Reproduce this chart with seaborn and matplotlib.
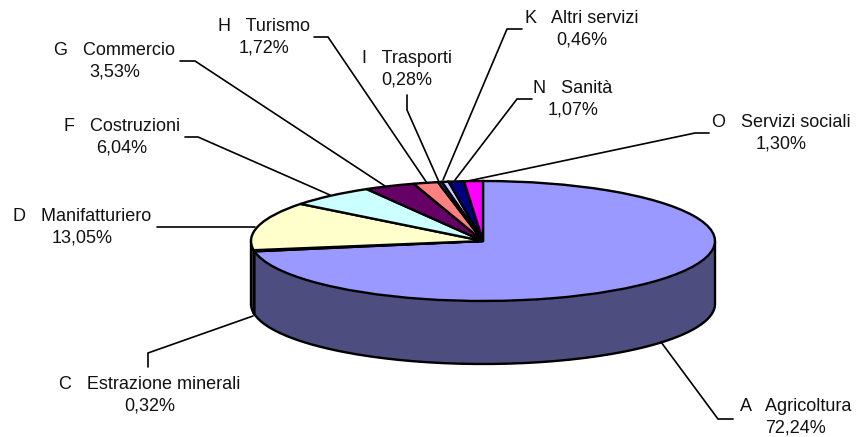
import numpy as np
import seaborn as sns
import matplotlib.pyplot as plt
from matplotlib.colors import to_rgb

sns.set_theme(style="white")
plt.rcParams["font.family"] = ["Liberation Sans", "DejaVu Sans"]

# settori e quote (%)
settori = ["A   Agricoltura", "C   Estrazione minerali", "D   Manifatturiero", "F   Costruzioni",
           "G   Commercio", "H   Turismo", "I   Trasporti", "K   Altri servizi", "N   Sanità",
           "O   Servizi sociali"]
quote = [72.24, 0.32, 13.05, 6.04, 3.53, 1.72, 0.28, 0.46, 1.07, 1.30]
etichette = ["72,24%", "0,32%", "13,05%", "6,04%", "3,53%", "1,72%", "0,28%", "0,46%", "1,07%", "1,30%"]
colori = sns.color_palette(["#9999FF", "#993366", "#FFFFCC", "#CCFFFF", "#660066",
                            "#FF8080", "#0066CC", "#CCCCFF", "#000080", "#FF00FF"])

# posizione testo e linee guida in pixel
pos_testo = [(796, 417), (150, 395), (82, 227), (122, 137), (115, 61),
             (264, 37), (407, 69), (582, 29), (573, 99), (781, 133)]
guide = [[(661, 342), (718, 419), (733, 419)],
         [(253, 316), (148, 353), (148, 367)],
         [(255, 227), (157, 227)],
         [(330, 195), (198, 137), (185, 137)],
         [(385, 186), (195, 61), (180, 61)],
         [(427, 183), (328, 37), (314, 37)],
         [(439, 182), (407, 110), (407, 95)],
         [(443, 180), (507, 29), (522, 29)],
         [(455, 180), (517, 99), (532, 99)],
         [(468, 181), (695, 133), (709, 133)]]

W, H = 858, 437
cx, cy, rx, ry, depth = 483, 241, 232, 60, 63

fig = plt.figure(figsize=(W / 100, H / 100), dpi=100)
ax = fig.add_axes([0, 0, 1, 1])

# fianco del disco, dai valori
spess = depth / ry
bordi = np.cumsum([0] + quote) / sum(quote) * 2 * np.pi
for i, c in enumerate(colori):
    t = np.linspace(np.pi / 2 - bordi[i], np.pi / 2 - bordi[i + 1], 200)
    t = t[np.sin(t) <= 0]
    if len(t) < 2:
        continue
    x, y = np.cos(t), np.sin(t)
    scuro = tuple(v * 0.5 for v in to_rgb(c))
    ax.fill_between(x, y, y - spess, color=scuro, lw=0, zorder=0)
    ax.plot(x, y - spess, color="black", lw=1.7, zorder=1)
    # spigoli verticali tra i settori
    for tt in (t[0], t[-1]):
        ax.plot([np.cos(tt)] * 2, [np.sin(tt), np.sin(tt) - spess], color="black", lw=1.7, zorder=1)

ax.pie(quote, colors=colori, startangle=90, counterclock=False, radius=1,
       wedgeprops=dict(edgecolor="black", linewidth=1.7, zorder=2))
ax.set_aspect("auto")
ax.set_xlim(-cx / rx, (W - cx) / rx)
ax.set_ylim(-(H - cy) / ry, cy / ry)

# livello testi in pixel
ov = fig.add_axes([0, 0, 1, 1])
ov.set_xlim(0, W)
ov.set_ylim(H, 0)
ov.axis("off")
for nome, val, (tx, ty), g in zip(settori, etichette, pos_testo, guide):
    xs, ys = zip(*g)
    ov.plot(xs, ys, color="black", lw=1.2, solid_joinstyle="miter")
    ov.text(tx, ty, f"{nome}\n{val}", ha="center", va="center", fontsize=13,
            color="#111111", linespacing=1.38)

plt.savefig("out.png", dpi=100)
